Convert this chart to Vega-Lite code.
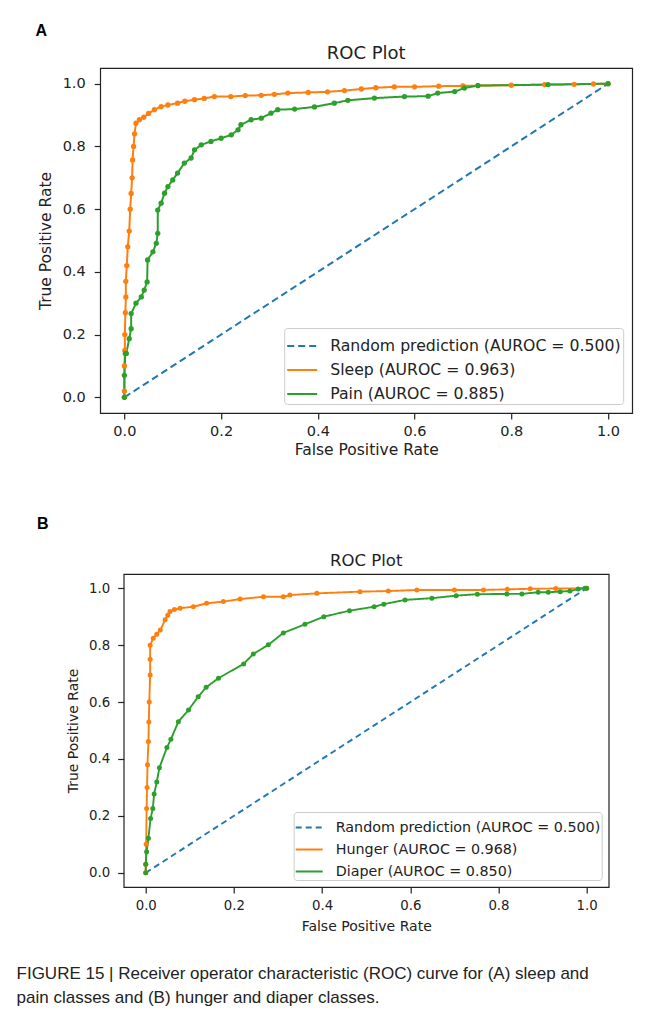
{
  "$schema": "https://vega.github.io/schema/vega-lite/v6.json",
  "padding": {"left": 16, "top": 23, "right": 5, "bottom": 5},
  "background": "white",
  "spacing": 56,
  "columns": 1,
  "align": "all",
  "center": true,
  "datasets": {
    "a": [
      {"series": "Random prediction (AUROC = 0.500)", "fpr": 0, "tpr": 0},
      {"series": "Random prediction (AUROC = 0.500)", "fpr": 1, "tpr": 1},
      {"series": "Sleep (AUROC = 0.963)", "fpr": 0, "tpr": 0},
      {"series": "Sleep (AUROC = 0.963)", "fpr": 0, "tpr": 0.02},
      {"series": "Sleep (AUROC = 0.963)", "fpr": 0, "tpr": 0.1},
      {"series": "Sleep (AUROC = 0.963)", "fpr": 0.001, "tpr": 0.15},
      {"series": "Sleep (AUROC = 0.963)", "fpr": 0.001, "tpr": 0.2},
      {"series": "Sleep (AUROC = 0.963)", "fpr": 0.002, "tpr": 0.27},
      {"series": "Sleep (AUROC = 0.963)", "fpr": 0.003, "tpr": 0.32},
      {"series": "Sleep (AUROC = 0.963)", "fpr": 0.003, "tpr": 0.37},
      {"series": "Sleep (AUROC = 0.963)", "fpr": 0.005, "tpr": 0.42},
      {"series": "Sleep (AUROC = 0.963)", "fpr": 0.007, "tpr": 0.48},
      {"series": "Sleep (AUROC = 0.963)", "fpr": 0.01, "tpr": 0.53},
      {"series": "Sleep (AUROC = 0.963)", "fpr": 0.012, "tpr": 0.6},
      {"series": "Sleep (AUROC = 0.963)", "fpr": 0.014, "tpr": 0.65},
      {"series": "Sleep (AUROC = 0.963)", "fpr": 0.016, "tpr": 0.7},
      {"series": "Sleep (AUROC = 0.963)", "fpr": 0.017, "tpr": 0.757},
      {"series": "Sleep (AUROC = 0.963)", "fpr": 0.019, "tpr": 0.8},
      {"series": "Sleep (AUROC = 0.963)", "fpr": 0.021, "tpr": 0.84},
      {"series": "Sleep (AUROC = 0.963)", "fpr": 0.024, "tpr": 0.874},
      {"series": "Sleep (AUROC = 0.963)", "fpr": 0.031, "tpr": 0.885},
      {"series": "Sleep (AUROC = 0.963)", "fpr": 0.04, "tpr": 0.893},
      {"series": "Sleep (AUROC = 0.963)", "fpr": 0.05, "tpr": 0.905},
      {"series": "Sleep (AUROC = 0.963)", "fpr": 0.062, "tpr": 0.917},
      {"series": "Sleep (AUROC = 0.963)", "fpr": 0.076, "tpr": 0.927},
      {"series": "Sleep (AUROC = 0.963)", "fpr": 0.09, "tpr": 0.932},
      {"series": "Sleep (AUROC = 0.963)", "fpr": 0.11, "tpr": 0.938},
      {"series": "Sleep (AUROC = 0.963)", "fpr": 0.125, "tpr": 0.944},
      {"series": "Sleep (AUROC = 0.963)", "fpr": 0.145, "tpr": 0.949},
      {"series": "Sleep (AUROC = 0.963)", "fpr": 0.165, "tpr": 0.953},
      {"series": "Sleep (AUROC = 0.963)", "fpr": 0.186, "tpr": 0.959},
      {"series": "Sleep (AUROC = 0.963)", "fpr": 0.22, "tpr": 0.959},
      {"series": "Sleep (AUROC = 0.963)", "fpr": 0.25, "tpr": 0.962},
      {"series": "Sleep (AUROC = 0.963)", "fpr": 0.283, "tpr": 0.963},
      {"series": "Sleep (AUROC = 0.963)", "fpr": 0.31, "tpr": 0.966},
      {"series": "Sleep (AUROC = 0.963)", "fpr": 0.338, "tpr": 0.97},
      {"series": "Sleep (AUROC = 0.963)", "fpr": 0.38, "tpr": 0.972},
      {"series": "Sleep (AUROC = 0.963)", "fpr": 0.42, "tpr": 0.974},
      {"series": "Sleep (AUROC = 0.963)", "fpr": 0.455, "tpr": 0.978},
      {"series": "Sleep (AUROC = 0.963)", "fpr": 0.49, "tpr": 0.983},
      {"series": "Sleep (AUROC = 0.963)", "fpr": 0.52, "tpr": 0.987},
      {"series": "Sleep (AUROC = 0.963)", "fpr": 0.558, "tpr": 0.99},
      {"series": "Sleep (AUROC = 0.963)", "fpr": 0.6, "tpr": 0.99},
      {"series": "Sleep (AUROC = 0.963)", "fpr": 0.65, "tpr": 0.992},
      {"series": "Sleep (AUROC = 0.963)", "fpr": 0.7, "tpr": 0.993},
      {"series": "Sleep (AUROC = 0.963)", "fpr": 0.731, "tpr": 0.994},
      {"series": "Sleep (AUROC = 0.963)", "fpr": 0.8, "tpr": 0.995},
      {"series": "Sleep (AUROC = 0.963)", "fpr": 0.869, "tpr": 0.997},
      {"series": "Sleep (AUROC = 0.963)", "fpr": 0.93, "tpr": 0.998},
      {"series": "Sleep (AUROC = 0.963)", "fpr": 0.97, "tpr": 0.999},
      {"series": "Sleep (AUROC = 0.963)", "fpr": 1, "tpr": 1},
      {"series": "Pain (AUROC = 0.885)", "fpr": 0, "tpr": 0},
      {"series": "Pain (AUROC = 0.885)", "fpr": 0, "tpr": 0.07},
      {"series": "Pain (AUROC = 0.885)", "fpr": 0.002, "tpr": 0.14},
      {"series": "Pain (AUROC = 0.885)", "fpr": 0.004, "tpr": 0.14},
      {"series": "Pain (AUROC = 0.885)", "fpr": 0.01, "tpr": 0.187},
      {"series": "Pain (AUROC = 0.885)", "fpr": 0.014, "tpr": 0.219},
      {"series": "Pain (AUROC = 0.885)", "fpr": 0.014, "tpr": 0.267},
      {"series": "Pain (AUROC = 0.885)", "fpr": 0.024, "tpr": 0.3},
      {"series": "Pain (AUROC = 0.885)", "fpr": 0.035, "tpr": 0.32},
      {"series": "Pain (AUROC = 0.885)", "fpr": 0.041, "tpr": 0.342},
      {"series": "Pain (AUROC = 0.885)", "fpr": 0.047, "tpr": 0.368},
      {"series": "Pain (AUROC = 0.885)", "fpr": 0.048, "tpr": 0.438},
      {"series": "Pain (AUROC = 0.885)", "fpr": 0.059, "tpr": 0.464},
      {"series": "Pain (AUROC = 0.885)", "fpr": 0.066, "tpr": 0.491},
      {"series": "Pain (AUROC = 0.885)", "fpr": 0.069, "tpr": 0.523},
      {"series": "Pain (AUROC = 0.885)", "fpr": 0.069, "tpr": 0.597},
      {"series": "Pain (AUROC = 0.885)", "fpr": 0.076, "tpr": 0.619},
      {"series": "Pain (AUROC = 0.885)", "fpr": 0.083, "tpr": 0.651},
      {"series": "Pain (AUROC = 0.885)", "fpr": 0.09, "tpr": 0.672},
      {"series": "Pain (AUROC = 0.885)", "fpr": 0.1, "tpr": 0.693},
      {"series": "Pain (AUROC = 0.885)", "fpr": 0.11, "tpr": 0.715},
      {"series": "Pain (AUROC = 0.885)", "fpr": 0.124, "tpr": 0.747},
      {"series": "Pain (AUROC = 0.885)", "fpr": 0.138, "tpr": 0.763},
      {"series": "Pain (AUROC = 0.885)", "fpr": 0.145, "tpr": 0.789},
      {"series": "Pain (AUROC = 0.885)", "fpr": 0.159, "tpr": 0.805},
      {"series": "Pain (AUROC = 0.885)", "fpr": 0.179, "tpr": 0.816},
      {"series": "Pain (AUROC = 0.885)", "fpr": 0.2, "tpr": 0.826},
      {"series": "Pain (AUROC = 0.885)", "fpr": 0.221, "tpr": 0.837},
      {"series": "Pain (AUROC = 0.885)", "fpr": 0.235, "tpr": 0.853},
      {"series": "Pain (AUROC = 0.885)", "fpr": 0.241, "tpr": 0.869},
      {"series": "Pain (AUROC = 0.885)", "fpr": 0.262, "tpr": 0.885},
      {"series": "Pain (AUROC = 0.885)", "fpr": 0.283, "tpr": 0.89},
      {"series": "Pain (AUROC = 0.885)", "fpr": 0.303, "tpr": 0.906},
      {"series": "Pain (AUROC = 0.885)", "fpr": 0.317, "tpr": 0.917},
      {"series": "Pain (AUROC = 0.885)", "fpr": 0.352, "tpr": 0.919},
      {"series": "Pain (AUROC = 0.885)", "fpr": 0.393, "tpr": 0.926},
      {"series": "Pain (AUROC = 0.885)", "fpr": 0.434, "tpr": 0.938},
      {"series": "Pain (AUROC = 0.885)", "fpr": 0.462, "tpr": 0.947},
      {"series": "Pain (AUROC = 0.885)", "fpr": 0.517, "tpr": 0.954},
      {"series": "Pain (AUROC = 0.885)", "fpr": 0.579, "tpr": 0.959},
      {"series": "Pain (AUROC = 0.885)", "fpr": 0.628, "tpr": 0.96},
      {"series": "Pain (AUROC = 0.885)", "fpr": 0.648, "tpr": 0.97},
      {"series": "Pain (AUROC = 0.885)", "fpr": 0.683, "tpr": 0.975},
      {"series": "Pain (AUROC = 0.885)", "fpr": 0.703, "tpr": 0.986},
      {"series": "Pain (AUROC = 0.885)", "fpr": 0.731, "tpr": 0.994},
      {"series": "Pain (AUROC = 0.885)", "fpr": 0.876, "tpr": 0.997},
      {"series": "Pain (AUROC = 0.885)", "fpr": 1, "tpr": 1}
    ],
    "b": [
      {"series": "Random prediction (AUROC = 0.500)", "fpr": 0, "tpr": 0},
      {"series": "Random prediction (AUROC = 0.500)", "fpr": 1, "tpr": 1},
      {"series": "Hunger (AUROC = 0.968)", "fpr": 0, "tpr": 0},
      {"series": "Hunger (AUROC = 0.968)", "fpr": 0, "tpr": 0.03},
      {"series": "Hunger (AUROC = 0.968)", "fpr": 0.001, "tpr": 0.1},
      {"series": "Hunger (AUROC = 0.968)", "fpr": 0.002, "tpr": 0.226},
      {"series": "Hunger (AUROC = 0.968)", "fpr": 0.003, "tpr": 0.3},
      {"series": "Hunger (AUROC = 0.968)", "fpr": 0.004, "tpr": 0.38},
      {"series": "Hunger (AUROC = 0.968)", "fpr": 0.006, "tpr": 0.461},
      {"series": "Hunger (AUROC = 0.968)", "fpr": 0.007, "tpr": 0.53},
      {"series": "Hunger (AUROC = 0.968)", "fpr": 0.008, "tpr": 0.6},
      {"series": "Hunger (AUROC = 0.968)", "fpr": 0.01, "tpr": 0.695},
      {"series": "Hunger (AUROC = 0.968)", "fpr": 0.01, "tpr": 0.75},
      {"series": "Hunger (AUROC = 0.968)", "fpr": 0.01, "tpr": 0.8},
      {"series": "Hunger (AUROC = 0.968)", "fpr": 0.017, "tpr": 0.824},
      {"series": "Hunger (AUROC = 0.968)", "fpr": 0.025, "tpr": 0.838},
      {"series": "Hunger (AUROC = 0.968)", "fpr": 0.033, "tpr": 0.853},
      {"series": "Hunger (AUROC = 0.968)", "fpr": 0.044, "tpr": 0.889},
      {"series": "Hunger (AUROC = 0.968)", "fpr": 0.05, "tpr": 0.905},
      {"series": "Hunger (AUROC = 0.968)", "fpr": 0.055, "tpr": 0.918},
      {"series": "Hunger (AUROC = 0.968)", "fpr": 0.065, "tpr": 0.925},
      {"series": "Hunger (AUROC = 0.968)", "fpr": 0.078, "tpr": 0.93},
      {"series": "Hunger (AUROC = 0.968)", "fpr": 0.108, "tpr": 0.935},
      {"series": "Hunger (AUROC = 0.968)", "fpr": 0.138, "tpr": 0.947},
      {"series": "Hunger (AUROC = 0.968)", "fpr": 0.176, "tpr": 0.953},
      {"series": "Hunger (AUROC = 0.968)", "fpr": 0.214, "tpr": 0.962},
      {"series": "Hunger (AUROC = 0.968)", "fpr": 0.267, "tpr": 0.97},
      {"series": "Hunger (AUROC = 0.968)", "fpr": 0.312, "tpr": 0.97},
      {"series": "Hunger (AUROC = 0.968)", "fpr": 0.327, "tpr": 0.976},
      {"series": "Hunger (AUROC = 0.968)", "fpr": 0.388, "tpr": 0.982},
      {"series": "Hunger (AUROC = 0.968)", "fpr": 0.486, "tpr": 0.988},
      {"series": "Hunger (AUROC = 0.968)", "fpr": 0.55, "tpr": 0.99},
      {"series": "Hunger (AUROC = 0.968)", "fpr": 0.615, "tpr": 0.994},
      {"series": "Hunger (AUROC = 0.968)", "fpr": 0.7, "tpr": 0.994},
      {"series": "Hunger (AUROC = 0.968)", "fpr": 0.766, "tpr": 0.994},
      {"series": "Hunger (AUROC = 0.968)", "fpr": 0.82, "tpr": 0.996},
      {"series": "Hunger (AUROC = 0.968)", "fpr": 0.872, "tpr": 0.998},
      {"series": "Hunger (AUROC = 0.968)", "fpr": 0.93, "tpr": 0.999},
      {"series": "Hunger (AUROC = 0.968)", "fpr": 1, "tpr": 1},
      {"series": "Diaper (AUROC = 0.850)", "fpr": 0, "tpr": 0},
      {"series": "Diaper (AUROC = 0.850)", "fpr": 0, "tpr": 0.03},
      {"series": "Diaper (AUROC = 0.850)", "fpr": 0.002, "tpr": 0.074},
      {"series": "Diaper (AUROC = 0.850)", "fpr": 0.006, "tpr": 0.121},
      {"series": "Diaper (AUROC = 0.850)", "fpr": 0.011, "tpr": 0.191},
      {"series": "Diaper (AUROC = 0.850)", "fpr": 0.016, "tpr": 0.226},
      {"series": "Diaper (AUROC = 0.850)", "fpr": 0.019, "tpr": 0.277},
      {"series": "Diaper (AUROC = 0.850)", "fpr": 0.025, "tpr": 0.319},
      {"series": "Diaper (AUROC = 0.850)", "fpr": 0.031, "tpr": 0.369},
      {"series": "Diaper (AUROC = 0.850)", "fpr": 0.048, "tpr": 0.44},
      {"series": "Diaper (AUROC = 0.850)", "fpr": 0.057, "tpr": 0.469},
      {"series": "Diaper (AUROC = 0.850)", "fpr": 0.074, "tpr": 0.531},
      {"series": "Diaper (AUROC = 0.850)", "fpr": 0.097, "tpr": 0.572},
      {"series": "Diaper (AUROC = 0.850)", "fpr": 0.119, "tpr": 0.619},
      {"series": "Diaper (AUROC = 0.850)", "fpr": 0.137, "tpr": 0.652},
      {"series": "Diaper (AUROC = 0.850)", "fpr": 0.165, "tpr": 0.684},
      {"series": "Diaper (AUROC = 0.850)", "fpr": 0.222, "tpr": 0.734},
      {"series": "Diaper (AUROC = 0.850)", "fpr": 0.244, "tpr": 0.769},
      {"series": "Diaper (AUROC = 0.850)", "fpr": 0.278, "tpr": 0.801},
      {"series": "Diaper (AUROC = 0.850)", "fpr": 0.312, "tpr": 0.843},
      {"series": "Diaper (AUROC = 0.850)", "fpr": 0.361, "tpr": 0.873},
      {"series": "Diaper (AUROC = 0.850)", "fpr": 0.404, "tpr": 0.9},
      {"series": "Diaper (AUROC = 0.850)", "fpr": 0.462, "tpr": 0.921},
      {"series": "Diaper (AUROC = 0.850)", "fpr": 0.518, "tpr": 0.935},
      {"series": "Diaper (AUROC = 0.850)", "fpr": 0.54, "tpr": 0.944},
      {"series": "Diaper (AUROC = 0.850)", "fpr": 0.588, "tpr": 0.959},
      {"series": "Diaper (AUROC = 0.850)", "fpr": 0.649, "tpr": 0.965},
      {"series": "Diaper (AUROC = 0.850)", "fpr": 0.704, "tpr": 0.974},
      {"series": "Diaper (AUROC = 0.850)", "fpr": 0.752, "tpr": 0.979},
      {"series": "Diaper (AUROC = 0.850)", "fpr": 0.819, "tpr": 0.98},
      {"series": "Diaper (AUROC = 0.850)", "fpr": 0.853, "tpr": 0.98},
      {"series": "Diaper (AUROC = 0.850)", "fpr": 0.89, "tpr": 0.986},
      {"series": "Diaper (AUROC = 0.850)", "fpr": 0.913, "tpr": 0.986},
      {"series": "Diaper (AUROC = 0.850)", "fpr": 0.94, "tpr": 0.988},
      {"series": "Diaper (AUROC = 0.850)", "fpr": 0.962, "tpr": 0.99},
      {"series": "Diaper (AUROC = 0.850)", "fpr": 0.981, "tpr": 0.997},
      {"series": "Diaper (AUROC = 0.850)", "fpr": 0.996, "tpr": 1},
      {"series": "Diaper (AUROC = 0.850)", "fpr": 1, "tpr": 1}
    ]
  },
  "title": {
    "text": ["FIGURE 15 | Receiver operator characteristic (ROC) curve for (A) sleep and", "pain classes and (B) hunger and diaper classes."],
    "orient": "bottom",
    "anchor": "start",
    "frame": "bounds",
    "font": "Liberation Sans Narrow, Liberation Sans",
    "fontSize": 17,
    "fontWeight": "normal",
    "color": "#222",
    "lineHeight": 24,
    "offset": 32,
    "dx": -19
  },
  "resolve": {"scale": {"color": "independent", "strokeDash": "independent"}, "legend": {"color": "independent", "strokeDash": "independent"}},
  "concat": [
    {
      "title": {"text": "A", "anchor": "start", "font": "Liberation Sans", "fontSize": 16, "fontWeight": "bold", "color": "#000", "dx": -2, "offset": 5},
      "resolve": {"scale": {"color": "independent", "strokeDash": "independent"}, "legend": {"color": "independent", "strokeDash": "independent"}},
      "vconcat": [
        {
          "width": 532,
          "height": 345,
          "title": {"text": "ROC Plot", "font": "DejaVu Sans", "fontSize": 18, "fontWeight": "normal", "color": "#222", "offset": 5},
          "data": {"name": "a"},
          "encoding": {
            "x": {"field": "fpr", "type": "quantitative", "scale": {"domain": [-0.05, 1.05], "nice": false, "zero": false},
                  "axis": {"values": [0, 0.2, 0.4, 0.6, 0.8, 1], "format": ".1f", "title": "False Positive Rate", "labelFontSize": 14.5, "titleFontSize": 15.5, "labelPadding": 5, "titlePadding": 5}},
            "y": {"field": "tpr", "type": "quantitative", "scale": {"domain": [-0.05, 1.05], "nice": false, "zero": false},
                  "axis": {"values": [0, 0.2, 0.4, 0.6, 0.8, 1], "format": ".1f", "title": "True Positive Rate", "labelFontSize": 14.5, "titleFontSize": 15.5, "labelPadding": 9, "titlePadding": 9}}
          },
          "layer": [
            {
              "mark": {"type": "line", "strokeWidth": 2},
              "encoding": {
                "color": {"field": "series", "type": "nominal",
                          "scale": {"domain": ["Random prediction (AUROC = 0.500)", "Sleep (AUROC = 0.963)", "Pain (AUROC = 0.885)"], "range": ["#1f77b4", "#ff7f0e", "#2ca02c"]},
                          "legend": {"title": null, "orient": "bottom-right", "offset": 9, "labelFontSize": 15.7, "symbolSize": 900, "rowPadding": -6, "padding": 2}},
                "strokeDash": {"field": "series", "type": "nominal",
                          "scale": {"domain": ["Random prediction (AUROC = 0.500)", "Sleep (AUROC = 0.963)", "Pain (AUROC = 0.885)"], "range": [[7, 4], [1, 0], [1, 0]]},
                          "legend": {"title": null, "orient": "bottom-right", "offset": 9, "labelFontSize": 15.7, "symbolSize": 900, "rowPadding": -6, "padding": 2}}
              }
            },
            {
              "transform": [{"filter": "datum.series != 'Random prediction (AUROC = 0.500)'"}],
              "mark": {"type": "circle", "size": 28, "opacity": 1},
              "encoding": {
                "color": {"field": "series", "type": "nominal", "legend": null}
              }
            }
          ]
        }
      ]
    },
    {
      "title": {"text": "B", "anchor": "start", "font": "Liberation Sans", "fontSize": 16, "fontWeight": "bold", "color": "#000", "dx": -29, "offset": 20},
      "resolve": {"scale": {"color": "independent", "strokeDash": "independent"}, "legend": {"color": "independent", "strokeDash": "independent"}},
      "vconcat": [
        {
          "width": 485,
          "height": 313,
          "title": {"text": "ROC Plot", "font": "DejaVu Sans", "fontSize": 16.5, "fontWeight": "normal", "color": "#222", "offset": 5},
          "data": {"name": "b"},
          "encoding": {
            "x": {"field": "fpr", "type": "quantitative", "scale": {"domain": [-0.05, 1.05], "nice": false, "zero": false},
                  "axis": {"values": [0, 0.2, 0.4, 0.6, 0.8, 1], "format": ".1f", "title": "False Positive Rate", "labelFontSize": 13.3, "titleFontSize": 14, "labelPadding": 5, "titlePadding": 8}},
            "y": {"field": "tpr", "type": "quantitative", "scale": {"domain": [-0.05, 1.05], "nice": false, "zero": false},
                  "axis": {"values": [0, 0.2, 0.4, 0.6, 0.8, 1], "format": ".1f", "title": "True Positive Rate", "labelFontSize": 13.3, "titleFontSize": 14, "labelPadding": 8, "titlePadding": 8}}
          },
          "layer": [
            {
              "mark": {"type": "line", "strokeWidth": 1.9},
              "encoding": {
                "color": {"field": "series", "type": "nominal",
                          "scale": {"domain": ["Random prediction (AUROC = 0.500)", "Hunger (AUROC = 0.968)", "Diaper (AUROC = 0.850)"], "range": ["#1f77b4", "#ff7f0e", "#2ca02c"]},
                          "legend": {"title": null, "orient": "bottom-right", "offset": 7, "labelFontSize": 14.3, "symbolSize": 729, "rowPadding": -5, "padding": 1}},
                "strokeDash": {"field": "series", "type": "nominal",
                          "scale": {"domain": ["Random prediction (AUROC = 0.500)", "Hunger (AUROC = 0.968)", "Diaper (AUROC = 0.850)"], "range": [[6, 4], [1, 0], [1, 0]]},
                          "legend": {"title": null, "orient": "bottom-right", "offset": 7, "labelFontSize": 14.3, "symbolSize": 729, "rowPadding": -5, "padding": 1}}
              }
            },
            {
              "transform": [{"filter": "datum.series != 'Random prediction (AUROC = 0.500)'"}],
              "mark": {"type": "circle", "size": 25, "opacity": 1},
              "encoding": {
                "color": {"field": "series", "type": "nominal", "legend": null}
              }
            }
          ]
        }
      ]
    }
  ],
  "config": {
    "view": {"stroke": "#222", "strokeWidth": 1.2},
    "axis": {"domain": false, "grid": false, "tickColor": "#222", "tickSize": 6, "tickWidth": 1.2, "labelColor": "#222", "titleColor": "#222", "labelFont": "DejaVu Sans", "titleFont": "DejaVu Sans", "titleFontWeight": "normal"},
    "legend": {"symbolType": "stroke", "symbolStrokeWidth": 2, "labelFont": "DejaVu Sans", "labelColor": "#222", "labelLimit": 0, "labelOffset": 12, "fillColor": "rgba(255,255,255,0.8)", "strokeColor": "#cccccc", "cornerRadius": 3}
  }
}
